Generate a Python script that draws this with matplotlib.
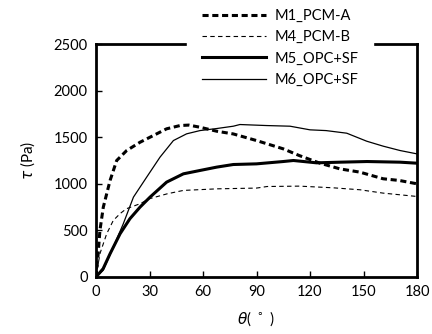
import matplotlib.pyplot as plt

plt.rcParams['font.family'] = ['Lato', 'DejaVu Sans']

# M1_PCM-A (thick dashed)
x_m1 = [0, 1, 2.2, 4.1, 7.9, 11.6, 17.2, 24.7, 30.3, 39.6, 47.1, 52, 58.3, 67.7, 77, 90, 105, 114, 125.6, 136.8, 148, 161, 170, 180]
y_m1 = [0, 200, 500, 750, 1036, 1250, 1357, 1446, 1500, 1590, 1625, 1630, 1607, 1564, 1535, 1464, 1375, 1303, 1221, 1160, 1125, 1054, 1036, 1000]

# M4_PCM-B (thin dashed)
x_m4 = [0, 2.2, 6, 9.7, 13.5, 17, 24.7, 30, 40, 49, 68, 90, 96, 114, 133, 148, 161, 180]
y_m4 = [0, 250, 464, 607, 680, 732, 786, 840, 893, 929, 946, 954, 971, 975, 957, 936, 900, 864]

# M5_OPC+SF (thick solid)
x_m5 = [0, 4, 7.9, 13.5, 19, 24.7, 30.3, 39.6, 49, 58.3, 67.7, 77, 90, 105, 110.7, 123.7, 137, 152, 170.5, 180]
y_m5 = [0, 89, 250, 464, 625, 750, 857, 1018, 1107, 1143, 1179, 1207, 1214, 1239, 1250, 1225, 1232, 1239, 1232, 1221]

# M6_OPC+SF (thin solid)
x_m6 = [0, 4, 9.7, 15.3, 21, 28.4, 35.9, 43.4, 50.8, 58.3, 67.7, 77, 80.7, 95.7, 108.8, 120, 129, 140.6, 151.8, 161, 170.5, 180]
y_m6 = [0, 71, 321, 571, 857, 1071, 1286, 1464, 1536, 1571, 1593, 1618, 1636, 1625, 1618, 1579, 1571, 1543, 1457, 1404, 1357, 1321]

fig = plt.figure(figsize=(4.32, 3.34), dpi=100)
ax = fig.add_axes([96/432, 1-277/334, 321/432, 233/334])

ax.plot(x_m1, y_m1, color="black", lw=2.2, ls=(0, (2, 1.2)), label="M1_PCM-A")
ax.plot(x_m4, y_m4, color="black", lw=0.8, ls=(0, (4, 3)), label="M4_PCM-B")
ax.plot(x_m5, y_m5, color="black", lw=2.2, label="M5_OPC+SF")
ax.plot(x_m6, y_m6, color="black", lw=0.9, label="M6_OPC+SF")

ax.set_xlim(0, 180)
ax.set_ylim(0, 2500)
ax.set_xticks(range(0, 181, 30))
ax.set_yticks(range(0, 2501, 500))
ax.tick_params(direction="in", length=4, width=1, labelsize=10.5, pad=6)
for s in ax.spines.values():
    s.set_linewidth(2)

ax.set_xlabel(r"$\theta$( $^\circ$ )", fontsize=11, labelpad=7)
ax.set_ylabel(r"$\tau$ (Pa)", fontsize=11, labelpad=12)

leg = ax.legend(loc="upper left", bbox_to_anchor=(91/321, 1+49.7/233), frameon=True,
                fontsize=10.5, handlelength=4.4, handletextpad=0.6,
                labelspacing=0.5, borderpad=1.0, borderaxespad=0, fancybox=False)
leg.get_frame().set_edgecolor("white")
leg.get_frame().set_facecolor("white")
leg.get_frame().set_alpha(1)
leg.set_zorder(10)

fig.savefig("out.png", dpi=100)
